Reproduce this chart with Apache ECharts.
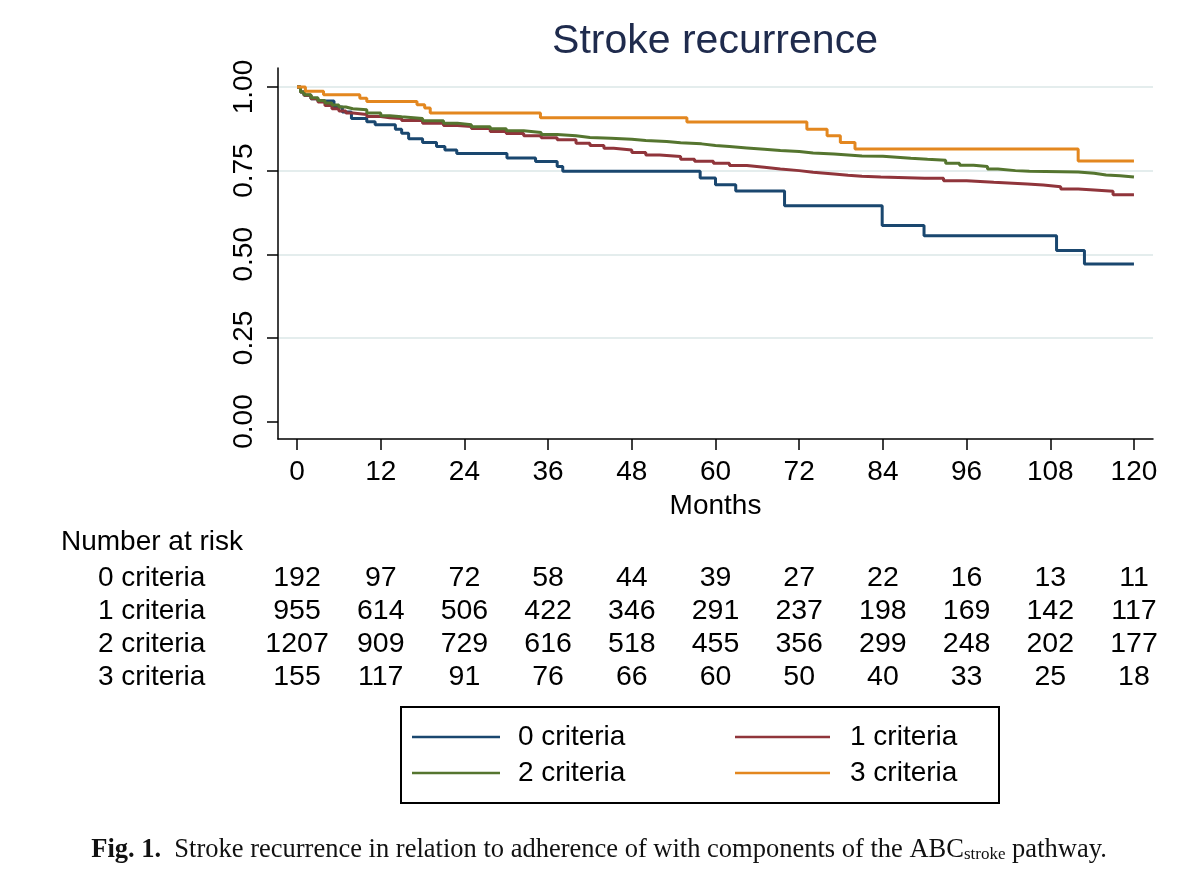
<!DOCTYPE html>
<html><head><meta charset="utf-8">
<script src="https://cdn.jsdelivr.net/npm/echarts@6/dist/echarts.min.js"></script>
<style>html,body{margin:0;padding:0;background:#fff}#c{width:1200px;height:892px}</style>
</head><body><div id="c"></div>
<script>
// ---- data ----
const monthTicks = [0,12,24,36,48,60,72,84,96,108,120];
const yTicks = [0,0.25,0.5,0.75,1];
const seriesNames = ['0 criteria','1 criteria','2 criteria','3 criteria'];
const seriesColors = ['#1a476f','#90353b','#55752f','#e3871f'];

const km0 = [[0,1],[0.5,0.985],[1,0.975],[2,0.965],[3,0.958],[5.3,0.94],[6.5,0.925],[7.8,0.906],[10,0.896],[11.2,0.887],[14.1,0.874],[15,0.862],[16,0.845],[18,0.834],[20,0.822],[21.2,0.812],[22.9,0.801],[30.1,0.788],[34.2,0.777],[37.3,0.762],[38.1,0.748],[57.8,0.728],[60,0.708],[62.9,0.689],[69.9,0.645],[83.9,0.586],[89.9,0.555],[108.9,0.511],[112.9,0.471],[120,0.471]];
const km1 = [[0,1],[0.5,0.985],[1,0.975],[2,0.965],[3,0.955],[4,0.945],[5,0.935],[6,0.928],[7,0.922],[8,0.918],[10,0.912],[12,0.908],[13.3,0.906],[15,0.9],[18,0.892],[21,0.885],[23,0.882],[25,0.876],[27.7,0.867],[30,0.861],[32.5,0.854],[35,0.848],[37.3,0.842],[40,0.832],[42,0.825],[44,0.817],[45.4,0.812],[48,0.804],[50,0.797],[52,0.792],[55,0.784],[57,0.778],[59.7,0.772],[62,0.765],[64.5,0.76],[67,0.755],[69.3,0.75],[72,0.745],[74,0.74],[77,0.736],[79,0.733],[81,0.731],[83.7,0.727],[90,0.727],[92.7,0.72],[96,0.715],[99.9,0.71],[104.7,0.707],[107,0.702],[109.5,0.695],[112,0.692],[114.3,0.688],[117,0.678],[120,0.678]];
const km2 = [[0,1],[0.5,0.985],[1,0.977],[2,0.968],[3,0.96],[4,0.952],[5,0.946],[6,0.94],[7,0.935],[8,0.932],[10,0.922],[12,0.914],[13.3,0.911],[15,0.906],[18,0.899],[21,0.892],[23,0.887],[25,0.881],[27.7,0.875],[30,0.869],[32.5,0.864],[35,0.858],[37.3,0.854],[40,0.849],[42,0.847],[45,0.844],[48,0.84],[50,0.837],[53,0.833],[55,0.83],[58,0.825],[60,0.822],[62,0.818],[64.5,0.814],[67,0.81],[69.3,0.807],[72,0.803],[74,0.8],[77,0.797],[79,0.794],[81,0.793],[84,0.79],[86,0.787],[88,0.784],[90.4,0.781],[93,0.772],[95,0.766],[97,0.762],[99,0.755],[100.5,0.75],[103,0.748],[105,0.746],[112,0.742],[114.3,0.737],[116,0.735],[118,0.731],[120,0.729]];
const km3 = [[0,1],[1.2,0.987],[3.8,0.977],[9,0.966],[10,0.957],[17.2,0.947],[18.3,0.937],[19.1,0.922],[34.9,0.908],[55.9,0.895],[73.1,0.874],[76,0.854],[77.9,0.834],[80,0.815],[112,0.779],[120,0.779]];

const risk0 = [192,97,72,58,44,39,27,22,16,13,11];
const risk1 = [955,614,506,422,346,291,237,198,169,142,117];
const risk2 = [1207,909,729,616,518,455,356,299,248,202,177];
const risk3 = [155,117,91,76,66,60,50,40,33,25,18];

const titleText = 'Stroke recurrence';
const xName = 'Months';
const riskTitle = 'Number at risk';
// ---- chart ----
const FONT = "'Liberation Sans', Arial, Helvetica, sans-serif";
const SERIF = "'Liberation Serif', 'DejaVu Serif', serif";
const kmData = [km0, km1, km2, km3];
const riskData = [risk0, risk1, risk2, risk3];

const chart = echarts.init(document.getElementById('c'), null, {renderer:'canvas'});
const option = {
  backgroundColor: '#ffffff',
  animation: false,
  textStyle: {fontFamily: FONT},
  grid: {left: 278, right: 47, top: 68, bottom: 453, containLabel: false},
  xAxis: {
    type: 'value', min: -2.73, max: 122.73,
    name: xName, nameLocation: 'middle', nameGap: 53,
    nameTextStyle: {fontSize: 28, color: '#000', fontFamily: FONT},
    axisLine: {show: true, onZero: false, lineStyle: {color: '#000', width: 1.5}},
    axisTick: {show: true, length: 11, inside: false, customValues: monthTicks, lineStyle: {color: '#000', width: 1.5}},
    axisLabel: {customValues: monthTicks, fontSize: 28, color: '#000', margin: 19, fontFamily: FONT},
    splitLine: {show: false}
  },
  yAxis: {
    type: 'value', min: -0.0523, max: 1.0568,
    axisLine: {show: true, onZero: false, lineStyle: {color: '#000', width: 1.5}},
    axisTick: {show: true, length: 11, customValues: yTicks, lineStyle: {color: '#000', width: 1.5}},
    axisLabel: {customValues: yTicks, rotate: 90, fontSize: 28, color: '#000', margin: 20, fontFamily: FONT,
      formatter: v => v.toFixed(2)},
    splitLine: {show: true, lineStyle: {color: ['rgba(0,0,0,0)','#e4eded','#e4eded','#e4eded','#e4eded'], width: 2}}
  },
  legend: [
    {data: [seriesNames[0], seriesNames[2]], orient: 'vertical', left: 407, top: 718, itemWidth: 88, itemHeight: 14, itemGap: 8,
     icon: 'path://M0,6L88,6L88,8.5L0,8.5Z',
     textStyle: {fontSize: 28, color: '#000', fontFamily: FONT, padding: [0,0,0,13]}},
    {data: [seriesNames[1], seriesNames[3]], orient: 'vertical', left: 730, top: 718, itemWidth: 95, itemHeight: 14, itemGap: 8,
     icon: 'path://M0,6L88,6L88,8.5L0,8.5Z',
     textStyle: {fontSize: 28, color: '#000', fontFamily: FONT, padding: [0,0,0,15]}}
  ],
  series: kmData.map((d, i) => ({
    name: seriesNames[i], type: 'line', step: 'end', data: d,
    showSymbol: false, symbol: 'none',
    lineStyle: {color: seriesColors[i], width: 3},
    itemStyle: {color: seriesColors[i]},
    z: 2 + i
  }))
};
chart.setOption(option);

const colX = monthTicks.map(m => chart.convertToPixel({xAxisIndex: 0}, m));
const rowY = [578, 611, 644, 677];
const g = [];
g.push({type: 'text', x: 715, y: 42, style: {text: titleText, fontSize: 41, fontFamily: FONT, fill: '#1f2b4d', align: 'center', verticalAlign: 'middle'}});
g.push({type: 'text', x: 61, y: 542, style: {text: riskTitle, fontSize: 28, fontFamily: FONT, fill: '#000', align: 'left', verticalAlign: 'middle'}});
riskData.forEach((row, r) => {
  g.push({type: 'text', x: 98, y: rowY[r], style: {text: seriesNames[r], fontSize: 28, fontFamily: FONT, fill: '#000', align: 'left', verticalAlign: 'middle'}});
  row.forEach((v, c) => {
    g.push({type: 'text', x: colX[c], y: rowY[r], style: {text: String(v), fontSize: 28.5, fontFamily: FONT, fill: '#000', align: 'center', verticalAlign: 'middle'}});
  });
});
g.push({type: 'rect', shape: {x: 401, y: 707, width: 598, height: 96}, style: {fill: 'none', stroke: '#000', lineWidth: 2}, z: -1});
g.push({type: 'text', x: 599, y: 850, style: {
  text: '{b|Fig. 1.}  Stroke recurrence in relation to adherence of with components of the ABC{s|stroke} pathway.',
  fontSize: 26.5, fontFamily: SERIF, fill: '#111', align: 'center', verticalAlign: 'middle',
  rich: {b: {fontWeight: 'bold', fontSize: 26.5, fontFamily: SERIF}, s: {fontSize: 17, fontFamily: SERIF, padding: [10,0,0,0]}}
}});
chart.setOption({graphic: g});
</script></body></html>
